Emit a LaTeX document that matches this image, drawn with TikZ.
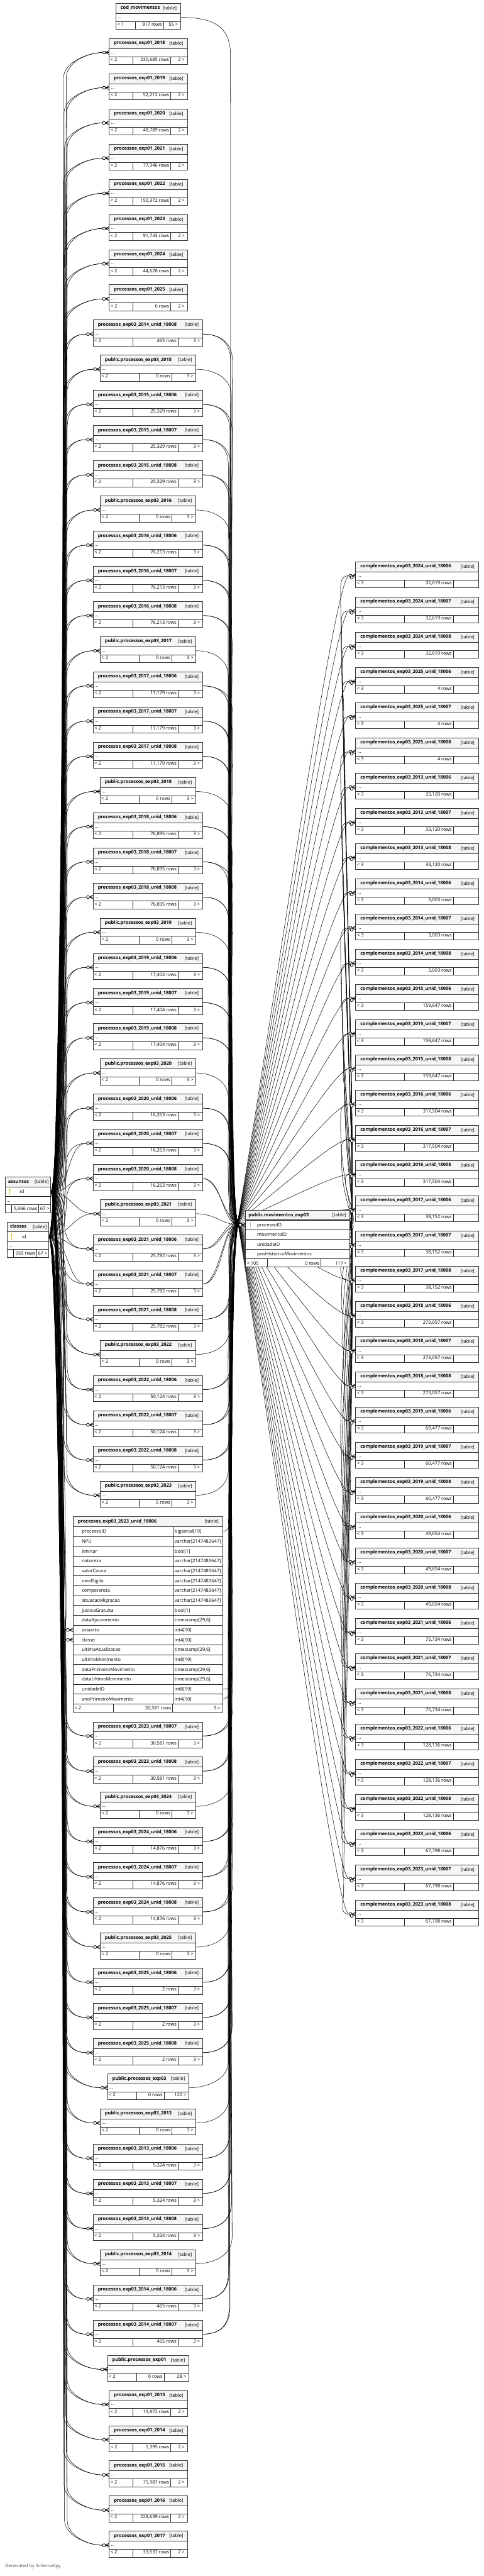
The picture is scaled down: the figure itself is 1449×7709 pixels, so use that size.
\documentclass[tikz,border=0pt]{standalone}
\usepackage{fontspec}
\setmainfont{Open Sans}
\usetikzlibrary{calc}
\pgfdeclarelayer{bgw}
\pgfdeclarelayer{bg}
\pgfsetlayers{bgw,bg,main}
\newcommand\cm{,}
\newcommand\lefttxt{< 2}
\newcommand\tbl[9]{%
  \fill[white] (#2,#6) rectangle (#3,#6+78);
  \fill[hdr] (#2,#6) rectangle (#3,#6+30);
  \draw[outer] (#2,#6+30) -- (#3,#6+30);
  \draw[cell] (#2,#6+54) -- (#3,#6+54);
  \draw[cell] (#4,#6+54) -- (#4,#6+78);
  \draw[cell] (#5,#6+54) -- (#5,#6+78);
  \draw[outer] (#2,#6) rectangle (#3,#6+78);
  \node[ttl,anchor=base west] (#1) at (#2+14,#6+18) {#7};
  \node[tag,anchor=base east] at (#3-12,#6+19) {[table]};
  \node[txt,anchor=base west] at (#2+5,#6+45) {...};
  \node[txt,anchor=base west] at (#2+4,#6+68) {\lefttxt};
  \node[txt,anchor=base east] at (#5-4,#6+68) {#8};
  \node[txt,anchor=base east] at (#3-8,#6+68) {#9};
  \coordinate (#1-w) at (#2,#6+42);
  \coordinate (#1-e) at (#3,#6+42);
  \coordinate (#1-in) at (#2-20,#6+42);
}
\newcommand\TA[4]{\tbl{#1}{327}{561}{398}{511}{#2}{processos\_exp01\_#3}{#4 rows}{2 >}}
\newcommand\TB[5]{\tbl{#1}{279}{607}{398}{533}{#2}{processos\_exp03\_#3\_unid\_#4}{#5 rows}{3 >}}
\newcommand\TC[3]{\tbl{#1}{300}{587}{416}{514}{#2}{public.processos\_exp03\_#3}{0 rows}{3 >}}
\newcommand\TD[4]{\tbl{#1}{322}{566}{409}{491}{#2}{public.processos\_#3}{0 rows}{#4}}
\newcommand\TR[5]{\tbl{#1}{1065}{1433}{1211}{1357}{#2}{complementos\_exp03\_#3\_unid\_#4}{#5 rows}{}}
\newcommand\crowat[1]{%
  \draw[crowl] ($(#1)+(-11,0)$) -- ($(#1)+(0,-6)$) ($(#1)+(-11,0)$) -- (#1) ($(#1)+(-11,0)$) -- ($(#1)+(0,6)$);
  \draw[crowl,fill=white] ($(#1)+(-15.5,0)$) circle (4.5pt);
}
\begin{document}
\begin{tikzpicture}[x=1pt,y=-1pt,
  hdr/.style={fill=black!4},
  cell/.style={draw=black!85,line width=1pt},
  outer/.style={draw=black!80,line width=1.6pt},
  ttl/.style={inner sep=0pt,font=\fontsize{14}{16}\selectfont\bfseries},
  tag/.style={inner sep=0pt,font=\fontsize{14}{16}\selectfont},
  txt/.style={inner sep=0pt,font=\fontsize{14}{16}\selectfont},
  rel/.style={line width=1pt,draw=black},
  crowl/.style={line width=1.5pt,draw=black},
]
\useasboundingbox (0,0) rectangle (1449,7709);
\begin{pgfonlayer}{bgw}
\fill[white] (0,0) rectangle (1449,7709);
\end{pgfonlayer}

% ---------- left column ----------
\renewcommand\lefttxt{< 1}
\tbl{L0}{347}{541}{405}{489}{10}{cod\_movimentos}{917 rows}{55 >}
\renewcommand\lefttxt{< 2}
\TA{L1}{115.3}{2018}{230,685}
\TA{L2}{220.6}{2019}{52,212}
\TA{L3}{325.9}{2020}{48,789}
\TA{L4}{431.2}{2021}{77,346}
\TA{L5}{536.5}{2022}{150,372}
\TA{L6}{641.8}{2023}{91,743}
\TA{L7}{747.1}{2024}{44,628}
\TA{L8}{852.4}{2025}{6}
\TB{L9}{957.7}{2014}{18008}{465}
\TC{L10}{1063}{2015}
\TB{L11}{1168.3}{2015}{18006}{25,329}
\TB{L12}{1273.6}{2015}{18007}{25,329}
\TB{L13}{1378.9}{2015}{18008}{25,329}
\TC{L14}{1484.2}{2016}
\TB{L15}{1589.5}{2016}{18006}{76,213}
\TB{L16}{1694.8}{2016}{18007}{76,213}
\TB{L17}{1800.1}{2016}{18008}{76,213}
\TC{L18}{1905.4}{2017}
\TB{L19}{2010.7}{2017}{18006}{11,179}
\TB{L20}{2116}{2017}{18007}{11,179}
\TB{L21}{2221.3}{2017}{18008}{11,179}
\TC{L22}{2326.6}{2018}
\TB{L23}{2431.9}{2018}{18006}{76,895}
\TB{L24}{2537.2}{2018}{18007}{76,895}
\TB{L25}{2642.5}{2018}{18008}{76,895}
\TC{L26}{2747.8}{2019}
\TB{L27}{2853.1}{2019}{18006}{17,404}
\TB{L28}{2958.4}{2019}{18007}{17,404}
\TB{L29}{3063.7}{2019}{18008}{17,404}
\TC{L30}{3169}{2020}
\TB{L31}{3274.3}{2020}{18006}{16,263}
\TB{L32}{3379.6}{2020}{18007}{16,263}
\TB{L33}{3484.9}{2020}{18008}{16,263}
\TC{L34}{3590.2}{2021}
\TB{L35}{3695.5}{2021}{18006}{25,782}
\TB{L36}{3800.8}{2021}{18007}{25,782}
\TB{L37}{3906.1}{2021}{18008}{25,782}
\TC{L38}{4011.4}{2022}
\TB{L39}{4116.7}{2022}{18006}{50,124}
\TB{L40}{4222}{2022}{18007}{50,124}
\TB{L41}{4327.3}{2022}{18008}{50,124}
\TC{L42}{4432.6}{2023}
% expanded table
\fill[white] (219,4538) rectangle (667,5124);
\fill[hdr] (219,4538) rectangle (667,4568);
\node[ttl,anchor=base west] (L43) at (233,4557) {processos\_exp03\_2023\_unid\_18006};
\node[tag,anchor=base east] at (655,4558) {[table]};
\foreach \nm/\ty [count=\k] in {processoID/{bigserial[19]}, NPU/{varchar[2147483647]}, liminar/{bool[1]}, natureza/{varchar[2147483647]}, valorCausa/{varchar[2147483647]}, nivelSigilo/{varchar[2147483647]}, competencia/{varchar[2147483647]}, situacaoMigracao/{varchar[2147483647]}, justicaGratuita/{bool[1]}, dataAjuizamento/{timestamp[29\cm6]}, assunto/{int4[10]}, classe/{int4[10]}, ultimaAtualizacao/{timestamp[29\cm6]}, ultimoMovimento/{int8[19]}, dataPrimeiroMovimento/{timestamp[29\cm6]}, dataUltimoMovimento/{timestamp[29\cm6]}, unidadeID/{int8[19]}, anoPrimeiroMovimento/{int4[10]}}{
  \pgfmathsetmacro\ry{4568+(\k-1)*29.5}
  \draw[cell] (219,\ry) -- (667,\ry);
  \node[txt,anchor=base west] at (245,\ry+20) {\nm};
  \node[txt,anchor=base west] at (523,\ry+20) {\ty};
}
\draw[outer] (219,4568) -- (667,4568);
\draw[cell] (518,4568) -- (518,5099);
\draw[cell] (219,5099) -- (667,5099);
\draw[cell] (339,5099) -- (339,5124);
\draw[cell] (517,5099) -- (517,5124);
\node[txt,anchor=base west] at (223,5117) {< 2};
\node[txt,anchor=base east] at (513,5117) {30,581 rows};
\node[txt,anchor=base east] at (659,5117) {3 >};
\draw[outer] (219,4538) rectangle (667,5124);
\coordinate (L43-as) at (199,4877.75);
\coordinate (L43-asw) at (219,4877.75);
\coordinate (L43-cl) at (199,4907.25);
\coordinate (L43-clw) at (219,4907.25);
\coordinate (L43-p) at (667,4582.75);
\coordinate (L43-u) at (667,5054.75);
\coordinate (L43-a) at (667,5084.25);

\TB{L44}{5153}{2023}{18007}{30,581}
\TB{L45}{5258.3}{2023}{18008}{30,581}
\TC{L46}{5363.6}{2024}
\TB{L47}{5468.9}{2024}{18006}{14,876}
\TB{L48}{5574.2}{2024}{18007}{14,876}
\TB{L49}{5679.5}{2024}{18008}{14,876}
\TC{L50}{5784.8}{2025}
\TB{L51}{5890.1}{2025}{18006}{2}
\TB{L52}{5995.4}{2025}{18007}{2}
\TB{L53}{6100.7}{2025}{18008}{2}
\TD{L54}{6206}{exp03}{120 >}
\TC{L55}{6311.3}{2013}
\TB{L56}{6416.6}{2013}{18006}{5,324}
\TB{L57}{6521.9}{2013}{18007}{5,324}
\TB{L58}{6627.2}{2013}{18008}{5,324}
\TC{L59}{6732.5}{2014}
\TB{L60}{6837.8}{2014}{18006}{465}
\TB{L61}{6943.1}{2014}{18007}{465}
\TD{L62}{7048.4}{exp01}{28 >}
\TA{L63}{7153.7}{2013}{15,972}
\TA{L64}{7259}{2014}{1,395}
\TA{L65}{7364.3}{2015}{75,987}
\TA{L66}{7469.6}{2016}{228,639}
\TA{L67}{7574.9}{2017}{33,537}

% ---------- assuntos / classes ----------
\fill[white] (16,3523) rectangle (152,3629);
\fill[hdr] (16,3523) rectangle (152,3552);
\node[ttl,anchor=base west] (as) at (24,3541) {assuntos};
\node[tag,anchor=base east] at (146,3542) {[table]};
\draw[outer] (16,3552) -- (152,3552);
\draw[cell] (16,3581) -- (152,3581);
\draw[cell] (16,3605) -- (152,3605);
\draw[cell] (34,3605) -- (34,3629);
\draw[cell] (115,3605) -- (115,3629);
\fill[yellow!80!black] (29,3561) circle (3pt);
\draw[yellow!80!black,line width=1.8pt] (29,3562) -- (29,3576);
\node[txt,anchor=base west] at (60,3572) {id};
\node[txt,anchor=base west] at (20,3598) {...};
\node[txt,anchor=base east] at (112,3622) {5,366 rows};
\node[txt,anchor=base east] at (148,3622) {67 >};
\draw[outer] (16,3523) rectangle (152,3629);
\coordinate (as-e) at (152,3566.5);

\fill[white] (22,3657) rectangle (146,3763);
\fill[hdr] (22,3657) rectangle (146,3686);
\node[ttl,anchor=base west] (cl) at (30,3675) {classes};
\node[tag,anchor=base east] at (140,3676) {[table]};
\draw[outer] (22,3686) -- (146,3686);
\draw[cell] (22,3715) -- (146,3715);
\draw[cell] (22,3739) -- (146,3739);
\draw[cell] (40,3739) -- (40,3763);
\draw[cell] (109,3739) -- (109,3763);
\fill[yellow!80!black] (35,3695) circle (3pt);
\draw[yellow!80!black,line width=1.8pt] (35,3696) -- (35,3710);
\node[txt,anchor=base west] at (66,3706) {id};
\node[txt,anchor=base west] at (26,3732) {...};
\node[txt,anchor=base east] at (106,3756) {959 rows};
\node[txt,anchor=base east] at (142,3756) {67 >};
\draw[outer] (22,3657) rectangle (146,3763);
\coordinate (cl-e) at (146,3700.5);

% ---------- center ----------
\fill[white] (735,3621) rectangle (1047,3792);
\fill[hdr] (735,3621) rectangle (1047,3651);
\node[ttl,anchor=base west] (mov) at (744,3640) {public.movimentos\_exp03};
\node[tag,anchor=base east] at (1037,3641) {[table]};
\draw[outer] (735,3651) -- (1047,3651);
\foreach \nm [count=\k] in {processoID,movimentoID,unidadeID,posHistoricoMovimentos}{
  \pgfmathsetmacro\ry{3651+(\k-1)*29}
  \draw[cell] (735,\ry) -- (1047,\ry);
  \node[txt,anchor=base west] at (770,\ry+20) {\nm};
}
\draw[cell] (735,3767) -- (1047,3767);
\draw[cell] (800,3767) -- (800,3792);
\draw[cell] (960,3767) -- (960,3792);
\node[txt,anchor=base west] at (739,3785) {< 105};
\node[txt,anchor=base east] at (956,3785) {0 rows};
\node[txt,anchor=base east] at (1039,3785) {117 >};
\fill[black!25] (749,3660) circle (2.5pt);
\draw[black!25,line width=1.5pt] (749,3661) -- (749,3673);
\draw[outer] (735,3621) rectangle (1047,3792);
\coordinate (mov-w) at (735,3665.5);
\coordinate (mov-in) at (715,3665.5);
\coordinate (mov-e) at (1047,3665.5);
\coordinate (K) at (712,3655);

% ---------- right column ----------
\renewcommand\lefttxt{< 3}
\foreach \yr/\rc [count=\k from 0] in {2024/32\cm619, 2025/4, 2013/33\cm120, 2014/3\cm003, 2015/159\cm647, 2016/317\cm504, 2017/38\cm152, 2018/273\cm057, 2019/60\cm477, 2020/49\cm654, 2021/75\cm734, 2022/128\cm136, 2023/67\cm798}{
  \foreach \u [count=\m from 0] in {18006,18007,18008}{
    \pgfmathtruncatemacro\j{3*\k+\m}
    \pgfmathsetmacro\yt{1681+105.4*\j}
    \TR{R\j}{\yt}{\yr}{\u}{\rc}
  }
}

% ---------- connectors ----------
\begin{pgfonlayer}{bg}
\foreach \i in {1,...,42,44,45,...,67}{
  \pgfmathsetmacro\yb{(\i<43 ? 10+105.3*\i : 5153+105.3*(\i-44)) + 42}
  \foreach \py/\bb/\src in {3566.5/189/as-e, 3700.5/197/cl-e}{
    \pgfmathsetmacro\d{\yb-\py}
    \pgfmathsetmacro\ad{abs(\d)}
    \pgfmathsetmacro\s{\d<0 ? -1 : 1}
    \pgfmathsetmacro\bx{\bb+mod(\i,4)*1.4}
    \pgfmathsetmacro\ym{\yb-75*\s}
    \pgfmathsetmacro\cl{min(280,0.6*(\ad-75))}
    \pgfmathsetmacro\cA{\ym-\cl*\s}
    \pgfmathsetmacro\cB{\ym+45*\s}
    \ifdim\ad pt<170pt
      \draw[rel] (\src) .. controls +(60,0) and +(-60,0) .. (L\i-in);
    \else
      \draw[rel] (\src) .. controls +(40,0) and (\bx,\cA) .. (\bx,\ym) .. controls (\bx,\cB) and +(-45,0) .. (L\i-in);
    \fi
  }
}
\draw[rel] (as-e) .. controls +(40,0) and (190,4500) .. (190,4800) .. controls (190,4850) and +(-20,0) .. (L43-as);
\draw[rel] (cl-e) .. controls +(40,0) and (198,4600) .. (198,4830) .. controls (198,4880) and +(-20,0) .. (L43-cl);
\foreach \i in {9,...,42,44,45,...,61}{
  \pgfmathsetmacro\yb{(\i<43 ? 10+105.3*\i : 5153+105.3*(\i-44)) + 42}
  \pgfmathsetmacro\d{3665.5-\yb}
  \pgfmathsetmacro\ad{abs(\d)}
  \pgfmathsetmacro\s{\d<0 ? -1 : 1}
  \pgfmathsetmacro\bx{684+mod(\i,6)*2.2}
  \pgfmathsetmacro\ym{\yb+80*\s}
  \pgfmathsetmacro\cc{\yb+20*\s}
  \pgfmathsetmacro\cl{min(300,0.6*(\ad-80))}
  \pgfmathsetmacro\cA{\ym+\cl*\s}
  \ifdim\ad pt<200pt
    \draw[rel] (L\i-e) .. controls +(60,0) and +(-50,0) .. (mov-in);
  \else
    \draw[rel] (L\i-e) .. controls +(45,0) and (\bx,\cc) .. (\bx,\ym) .. controls (\bx,\cA) and +(-40,0) .. (mov-in);
  \fi
}
\draw[rel] (L43-p) .. controls +(20,0) and (692,4560) .. (692,4500) .. controls (692,4000) and +(-40,0) .. (mov-in);
\draw[rel] (L43-a) .. controls +(20,0) and (696,5060) .. (696,5000) .. controls (696,4200) and +(-40,0) .. (mov-in);
\draw[rel] (L0-e) .. controls +(100,0) and (688,80) .. (690,160) .. controls (694,2000) and +(-40,0) .. (mov-in);
\foreach \i/\j in {9/11, 11/12, 12/13, 13/14, 15/15, 16/16, 17/17, 19/18, 20/19, 21/20, 23/21, 24/22, 25/23, 27/24, 28/25, 29/26, 31/27, 32/28, 33/29, 35/30, 36/31, 37/32, 39/33, 40/34, 41/35, 44/37, 45/38, 47/0, 48/1, 49/2, 51/3, 52/4, 53/5, 56/6, 57/7, 58/8, 60/9, 61/10}{
  \pgfmathsetmacro\yb{(\i<43 ? 10+105.3*\i : 5153+105.3*(\i-44)) + 42}
  \pgfmathsetmacro\d{3655-\yb}
  \pgfmathsetmacro\ad{abs(\d)}
  \pgfmathsetmacro\s{\d<0 ? -1 : 1}
  \pgfmathsetmacro\bx{686+mod(\i,5)*2.5}
  \pgfmathsetmacro\ym{\yb+80*\s}
  \pgfmathsetmacro\cc{\yb+20*\s}
  \pgfmathsetmacro\cl{min(300,0.6*(\ad-80))}
  \pgfmathsetmacro\cA{\ym+\cl*\s}
  \ifdim\ad pt<200pt
    \draw[rel] (L\i-e) .. controls +(50,0) and +(-40,0) .. (K) .. controls ($(K)!0.3!(R\j-in)$) and +(-45,0) .. (R\j-in);
  \else
    \draw[rel] (L\i-e) .. controls +(45,0) and (\bx,\cc) .. (\bx,\ym) .. controls (\bx,\cA) and +(-30,0) .. (K) .. controls ($(K)!0.3!(R\j-in)$) and +(-45,0) .. (R\j-in);
  \fi
}
\draw[rel] (L43-u) .. controls +(20,0) and (694,5060) .. (694,5000) .. controls (694,4100) and +(-30,0) .. (K) .. controls ($(K)!0.3!(R36-in)$) and +(-45,0) .. (R36-in);
\foreach \j in {0,...,38}{
  \pgfmathsetmacro\yc{1681+105.4*\j+42}
  \pgfmathsetmacro\d{\yc-3665.5}
  \pgfmathsetmacro\ad{abs(\d)}
  \pgfmathsetmacro\s{\d<0 ? -1 : 1}
  \pgfmathsetmacro\bx{1020+mod(\j,5)*3}
  \pgfmathsetmacro\ym{\yc-70*\s}
  \pgfmathsetmacro\cl{min(300,0.6*(\ad-70))}
  \pgfmathsetmacro\cA{\ym-\cl*\s}
  \pgfmathsetmacro\cB{\ym+40*\s}
  \ifdim\ad pt<160pt
    \draw[rel] (mov-e) .. controls +(40,0) and +(-40,0) .. (R\j-in);
  \else
    \draw[rel] (mov-e) .. controls +(25,0) and (\bx,\cA) .. (\bx,\ym) .. controls (\bx,\cB) and +(-30,0) .. (R\j-in);
  \fi
}
\end{pgfonlayer}

\foreach \i in {1,...,42,44,45,...,67}{\crowat{L\i-w}}
\crowat{L43-asw}
\crowat{L43-clw}
\crowat{mov-w}
\foreach \j in {0,...,38}{
  \crowat{R\j-w}
  \draw[crowl,fill=white] ($(R\j-w)+(-12,5)$) circle (4.5pt);
}

\node[anchor=base west,inner sep=0pt,font=\fontsize{14}{16}\selectfont,text=black!70] (gen) at (15,7684) {Generated by SchemaSpy};
\end{tikzpicture}
\end{document}
